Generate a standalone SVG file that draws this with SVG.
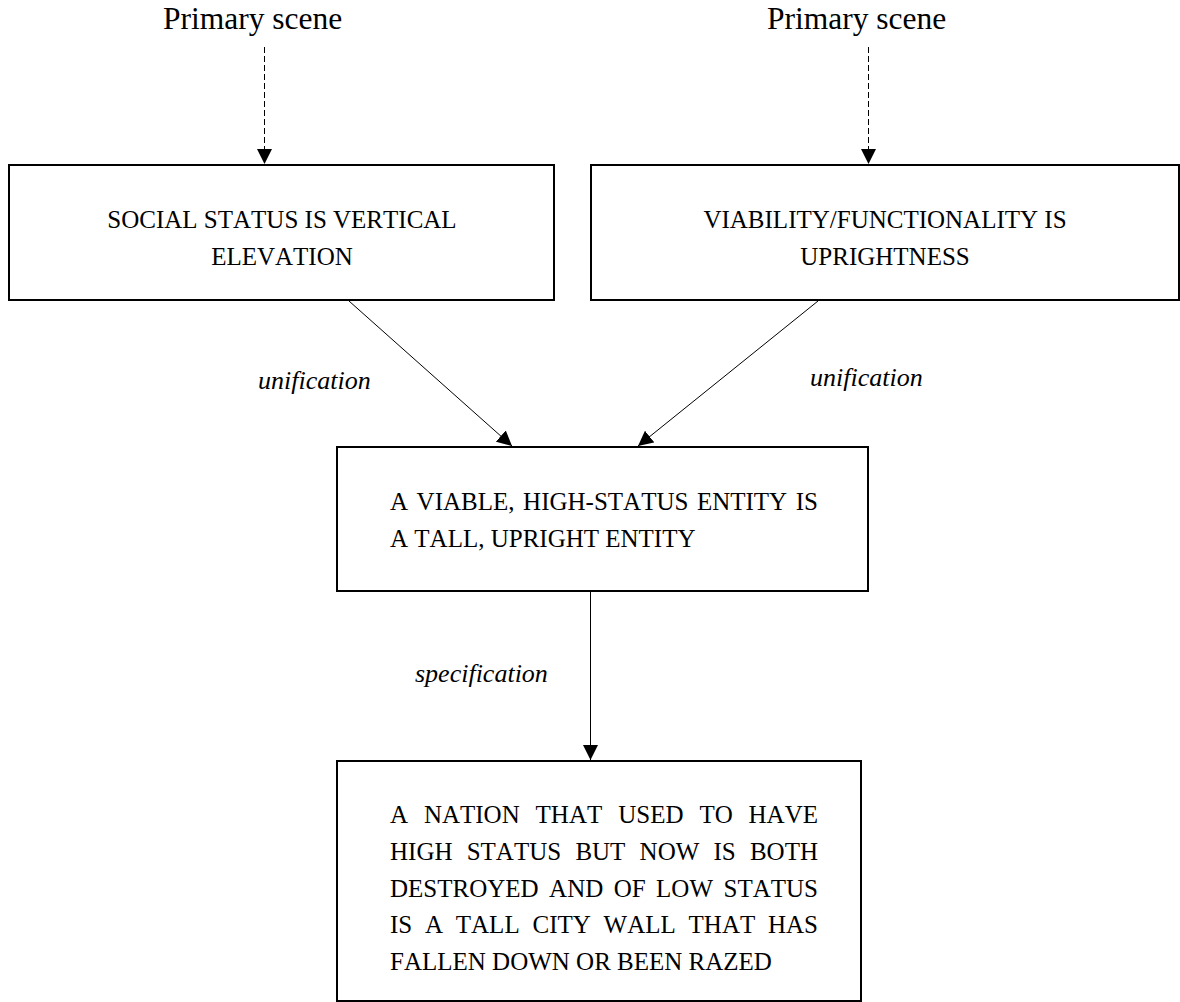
<svg xmlns="http://www.w3.org/2000/svg" width="1180" height="1002" viewBox="0 0 1180 1002">
  <style>
    text { font-family: "Liberation Serif", "Times New Roman", serif; fill: #000; font-kerning: none; font-feature-settings: "kern" 0; }
    .scene { font-size: 31.5px; }
    .box { fill: #fff; stroke: #000; stroke-width: 2; }
    .label { font-size: 25px; }
    .end { text-anchor: end; }
    .rel { font-size: 26px; font-style: italic; }
    .link { stroke: #000; stroke-width: 1; fill: none; marker-end: url(#head); }
    .dash { stroke-dasharray: 6 3; }
  </style>
  <defs>
    <marker id="head" viewBox="0 0 15 15" markerWidth="15" markerHeight="15" refX="15" refY="7.5" orient="auto" markerUnits="userSpaceOnUse">
      <path d="M0,0 L15,7.5 L0,15 z" fill="#000"/>
    </marker>
  </defs>
  <rect width="1180" height="1002" fill="#fff"/>

  <!-- source labels -->
  <g id="scene-left">
    <text class="scene" x="163" y="29">Primary scene</text>
  </g>
  <g id="scene-right">
    <text class="scene" x="767" y="29">Primary scene</text>
  </g>

  <!-- input metaphors -->
  <g id="social-status">
    <rect class="box" x="9" y="165" width="545" height="135"/>
    <text class="label" x="282" y="228" text-anchor="middle">SOCIAL STATUS IS VERTICAL</text>
    <text class="label" x="282" y="265" text-anchor="middle">ELEVATION</text>
  </g>
  <g id="viability">
    <rect class="box" x="591" y="165" width="588" height="135"/>
    <text class="label" x="885" y="228" text-anchor="middle">VIABILITY/FUNCTIONALITY IS</text>
    <text class="label" x="885" y="265" text-anchor="middle">UPRIGHTNESS</text>
  </g>

  <!-- unified metaphor (justified block, 390 to 818) -->
  <g id="unified">
    <rect class="box" x="337" y="447" width="531" height="144"/>
    <text class="label" y="510"><tspan x="390">A</tspan> <tspan x="416.6">VIABLE,</tspan> <tspan x="523.1">HIGH-STATUS</tspan> <tspan x="696.9">ENTITY</tspan> <tspan class="end" x="818">IS</tspan></text>
    <text class="label" x="390" y="547">A TALL, UPRIGHT ENTITY</text>
  </g>

  <!-- specific metaphor (justified block, 390 to 818) -->
  <g id="specific">
    <rect class="box" x="337" y="761" width="524" height="240"/>
    <text class="label" y="823"><tspan x="390">A</tspan> <tspan x="423.9">NATION</tspan> <tspan x="535.6">THAT</tspan> <tspan x="618.2">USED</tspan> <tspan x="699.4">TO</tspan> <tspan class="end" x="818">HAVE</tspan></text>
    <text class="label" y="860"><tspan x="390">HIGH</tspan> <tspan x="466.7">STATUS</tspan> <tspan x="575.4">BUT</tspan> <tspan x="639.6">NOW</tspan> <tspan x="713.5">IS</tspan> <tspan class="end" x="818">BOTH</tspan></text>
    <text class="label" y="897"><tspan x="390">DESTROYED</tspan> <tspan x="549.1">AND</tspan> <tspan x="613.7">OF</tspan> <tspan x="656.1">LOW</tspan> <tspan class="end" x="818">STATUS</tspan></text>
    <text class="label" y="933"><tspan x="390">IS</tspan> <tspan x="425">A</tspan> <tspan x="455.8">TALL</tspan> <tspan x="532.5">CITY</tspan> <tspan x="603.6">WALL</tspan> <tspan x="688.6">THAT</tspan> <tspan class="end" x="818">HAS</tspan></text>
    <text class="label" x="390" y="970">FALLEN DOWN OR BEEN RAZED</text>
  </g>

  <!-- connectors -->
  <g id="connectors">
    <line class="link dash" x1="264.5" y1="47" x2="264.5" y2="164"/>
    <line class="link dash" x1="868.5" y1="47" x2="868.5" y2="164"/>
    <line class="link" x1="349" y1="301" x2="512" y2="446"/>
    <line class="link" x1="818" y1="301" x2="638" y2="446"/>
    <line class="link" x1="590.5" y1="592" x2="590.5" y2="760"/>
    <text class="rel" x="258" y="389">unification</text>
    <text class="rel" x="810" y="386">unification</text>
    <text class="rel" x="415" y="682">specification</text>
  </g>
</svg>
